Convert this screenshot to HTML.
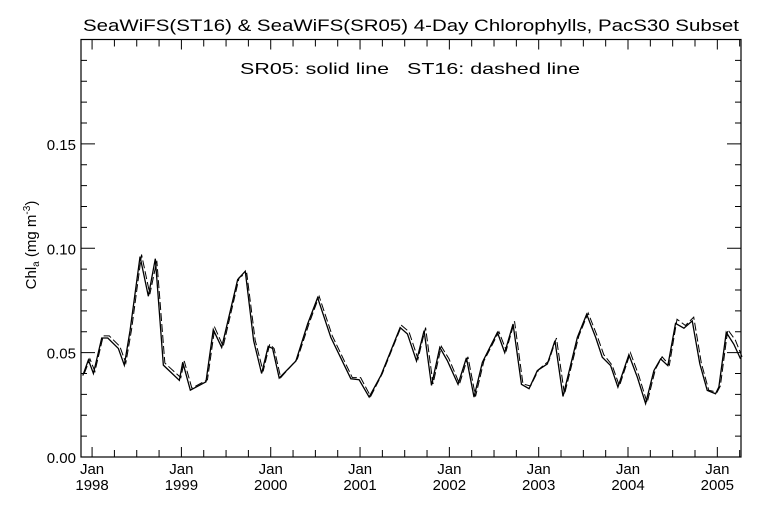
<!DOCTYPE html>
<html><head><meta charset="utf-8"><style>
html,body{margin:0;padding:0;background:#fff;}
svg{display:block;font-family:"Liberation Sans",sans-serif;}
</style></head><body>
<svg id="chart" width="768" height="512" viewBox="0 0 768 512">
<rect x="0" y="0" width="768" height="512" fill="#fff"/>
<text x="83" y="31" font-size="17" textLength="656" lengthAdjust="spacingAndGlyphs" fill="#000">SeaWiFS(ST16) &amp; SeaWiFS(SR05) 4-Day Chlorophylls, PacS30 Subset</text>
<text x="240" y="74" font-size="16" textLength="340" lengthAdjust="spacingAndGlyphs" fill="#000">SR05: solid line &#160;&#160;ST16: dashed line</text>
<text transform="translate(36,245) rotate(-90)" font-size="15" text-anchor="middle" fill="#000">Chl<tspan font-size="10" dy="3">a</tspan><tspan dy="-3"> (mg m</tspan><tspan font-size="10" dy="-6">-3</tspan><tspan dy="6">)</tspan></text>
<g id="axes"></g>
<g id="series"></g>
</svg>
<script>
const yTicks=[0.00,0.05,0.10,0.15];
const yTickLabels=["0.00","0.05","0.10","0.15"];
const xYears=[1998,1999,2000,2001,2002,2003,2004,2005];
const xLabels=["1998","1999","2000","2001","2002","2003","2004","2005"];
const sr05T=[1997.896,1997.959,1998.015,1998.108,1998.176,1998.294,1998.361,1998.425,1998.537,1998.630,1998.708,1998.798,1998.977,1999.015,1999.100,1999.275,1999.357,1999.451,1999.630,1999.715,1999.809,1999.898,1999.972,2000.021,2000.095,2000.282,2000.413,2000.525,2000.673,2000.897,2000.990,2001.102,2001.233,2001.449,2001.531,2001.632,2001.717,2001.800,2001.893,2001.979,2002.097,2002.191,2002.276,2002.370,2002.538,2002.620,2002.713,2002.807,2002.892,2002.985,2003.097,2003.182,2003.272,2003.433,2003.537,2003.638,2003.712,2003.805,2003.887,2004.010,2004.104,2004.197,2004.290,2004.365,2004.446,2004.532,2004.626,2004.719,2004.804,2004.887,2004.980,2005.017,2005.100,2005.185,2005.260];
const sr05V=[0.039,0.0465,0.040,0.057,0.057,0.052,0.044,0.0605,0.096,0.077,0.095,0.044,0.0367,0.0454,0.032,0.036,0.061,0.0525,0.085,0.089,0.0557,0.040,0.053,0.052,0.0378,0.046,0.0637,0.0763,0.0573,0.0375,0.037,0.0287,0.039,0.062,0.0589,0.046,0.0605,0.0343,0.0525,0.046,0.0348,0.0475,0.0287,0.0454,0.0597,0.050,0.0637,0.0348,0.0327,0.0414,0.0446,0.0557,0.029,0.0573,0.0684,0.0573,0.0478,0.0438,0.0335,0.049,0.0383,0.0256,0.0414,0.047,0.0438,0.064,0.0617,0.0652,0.0446,0.0319,0.0303,0.0335,0.0597,0.054,0.047];
const st16V=[0.040,0.047,0.041,0.058,0.058,0.053,0.045,0.061,0.097,0.078,0.094,0.045,0.038,0.046,0.033,0.037,0.062,0.053,0.086,0.088,0.056,0.041,0.054,0.052,0.038,0.047,0.064,0.077,0.058,0.038,0.038,0.029,0.040,0.063,0.060,0.047,0.062,0.035,0.053,0.047,0.035,0.048,0.029,0.046,0.060,0.051,0.065,0.035,0.034,0.042,0.046,0.057,0.030,0.058,0.069,0.058,0.049,0.044,0.034,0.050,0.039,0.026,0.042,0.048,0.044,0.066,0.063,0.067,0.045,0.032,0.031,0.034,0.061,0.056,0.048];
const L=81,R=741,T=39.5,B=457,X0=1997.876,X1=2005.265,Y0=0,Y1=0.2;
const xs=t=>L+(t-X0)/(X1-X0)*(R-L);
const ys=v=>B-(v-Y0)/(Y1-Y0)*(B-T);
const NS="http://www.w3.org/2000/svg";
function mk(tag,attrs,parent){const e=document.createElementNS(NS,tag);for(const k in attrs)e.setAttribute(k,attrs[k]);parent.appendChild(e);return e;}
const ax=document.getElementById('axes');
const frame=mk('rect',{x:L,y:T,width:R-L,height:B-T,fill:'none',stroke:'#000','stroke-width':1.2},ax);


for(let v=0;v<=0.2001;v+=0.01){
  const y=ys(v);const major=Math.abs(v*20-Math.round(v*20))<1e-6;const len=major?14:6;
  const a=mk('line',{x1:L,x2:L+len,y1:y,y2:y,stroke:'#000','stroke-width':1},ax);
  
  
  const b=mk('line',{x1:R,x2:R-len,y1:y,y2:y,stroke:'#000','stroke-width':1},ax);
  
  
}
yTicks.forEach((v,i)=>{
  const t=mk('text',{x:L-5,y:ys(v)+6,'font-size':15,'text-anchor':'end',fill:'#000'},ax);
  t.textContent=yTickLabels[i];
  
  
});
for(let m=0;m<=96;m+=3){
  const t=1997.75+m/12; if(t<X0||t>X1)continue;
  const x=xs(t);const major=(m%12===3);const len=major?10:7;
  const a=mk('line',{x1:x,x2:x,y1:B,y2:B-len,stroke:'#000','stroke-width':1},ax);
  
  
  const b=mk('line',{x1:x,x2:x,y1:T,y2:T+len,stroke:'#000','stroke-width':1},ax);
  
  
}
xYears.forEach((yr,i)=>{
  const x=xs(yr);
  const a=mk('text',{x:x,y:474,'font-size':15,'text-anchor':'middle',fill:'#000'},ax);
  a.textContent='Jan';
  
  
  const b=mk('text',{x:x,y:490,'font-size':15,'text-anchor':'middle',fill:'#000'},ax);
  b.textContent=xLabels[i];
  
  
});
const sg=document.getElementById('series');
const solid=mk('polyline',{points:sr05T.map((t,i)=>xs(t)+','+ys(sr05V[i])).join(' '),fill:'none',stroke:'#000','stroke-width':1.3},sg);


const dash=mk('polyline',{points:sr05T.map((t,i)=>(xs(t)+1.5)+','+ys(st16V[i])).join(' '),fill:'none',stroke:'#000','stroke-width':1,'stroke-dasharray':'8,3'},sg);


</script>
</body></html>
